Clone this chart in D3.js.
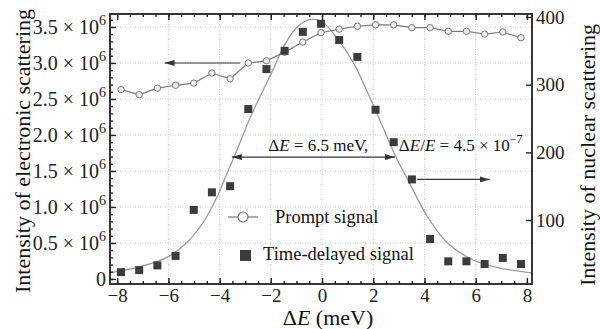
<!DOCTYPE html>
<html>
<head>
<meta charset="utf-8">
<script src="https://cdn.jsdelivr.net/npm/d3@7"></script>
<style>
  body { margin: 0; background: #fff; }
  svg { display: block; font-family: "Liberation Serif", serif; }
</style>
</head>
<body>
<svg id="chart" width="600" height="329"></svg>
<script>
// ---- data ----
// detuning of each measured point (meV)
const energy = [-7.85, -7.14, -6.43, -5.72, -5.01, -4.30, -3.59, -2.88, -2.17, -1.46, -0.75, -0.04,
                0.67, 1.38, 2.09, 2.80, 3.51, 4.22, 4.93, 5.64, 6.35, 7.06, 7.77];
// prompt signal, electronic scattering (x 10^6)
const prompt = [2.63, 2.56, 2.65, 2.69, 2.72, 2.86, 2.78, 3.00, 3.03, 3.15, 3.29, 3.42,
                3.47, 3.51, 3.53, 3.53, 3.49, 3.49, 3.44, 3.44, 3.40, 3.43, 3.35];
// time-delayed signal, nuclear scattering (counts)
const delayed = [23, 26, 33, 47, 115, 141, 150, 264, 323, 350, 378, 390,
                 366, 341, 263, 215, 160, 72, 39, 39, 35, 44, 35];
// fitted curve (nuclear axis)
const fitE      = [-8.3, -7.1, -6.0, -5.3, -4.65, -4.1, -3.7, -3.4, -2.8, -1.95, -1.5, -1.0, -0.5, 0.0,
                   0.6, 1.2, 2.0, 2.9, 3.4, 4.1, 4.9, 5.9, 6.95, 8.2];
const fitCounts = [22, 31, 46, 66, 96, 134, 170, 196, 252, 319, 356, 384, 396, 393,
                   368, 334, 270, 192, 156, 106, 66, 41, 29, 22];

const xTicks = [-8, -6, -4, -2, 0, 2, 4, 6, 8];
const leftTicks = [0, 0.5, 1.0, 1.5, 2.0, 2.5, 3.0, 3.5];
const leftLabels = ["0", "0.5", "1.0", "1.5", "2.0", "2.5", "3.0", "3.5"];
const rightTicks = [100, 200, 300, 400];

// ---- layout ----
const W = 600, H = 329;
const m = {top: 14, right: 68, bottom: 45, left: 110};
const iw = W - m.left - m.right, ih = H - m.top - m.bottom;
const serif = '"Liberation Serif", serif';

const svg = d3.select("#chart");
const g = svg.append("g").attr("transform", `translate(${m.left},${m.top})`);

const x = d3.scaleLinear().domain([-8.28, 8.2]).range([0, iw]);
const yL = d3.scaleLinear().domain([-0.07, 3.68]).range([ih, 0]);
const yR = d3.scaleLinear().domain([5.5, 404.4]).range([ih, 0]);

// grid
g.append("g").selectAll("line").data(xTicks.slice(1, -1)).join("line")
  .attr("x1", d => x(d)).attr("x2", d => x(d)).attr("y1", 0).attr("y2", ih)
  .attr("stroke", "#bdbdbd").attr("stroke-width", 0.8).attr("stroke-dasharray", "1,1.5");
g.append("g").selectAll("line").data(leftTicks.slice(1)).join("line")
  .attr("x1", 0).attr("x2", iw).attr("y1", d => yL(d)).attr("y2", d => yL(d))
  .attr("stroke", "#bdbdbd").attr("stroke-width", 0.8).attr("stroke-dasharray", "1,1.5");

const defs = svg.append("defs");
defs.append("clipPath").attr("id", "clip")
  .append("rect").attr("width", iw).attr("height", ih);

// arrow marker
defs.append("marker")
  .attr("id", "arrow").attr("viewBox", "0 0 10 6").attr("refX", 10).attr("refY", 3)
  .attr("markerWidth", 10).attr("markerHeight", 6).attr("markerUnits", "userSpaceOnUse")
  .attr("orient", "auto-start-reverse")
  .append("path").attr("d", "M0,0L10,3L0,6Z").attr("fill", "#333");

// fit curve
g.append("path")
  .datum(fitE.map((e, i) => [e, fitCounts[i]]))
  .attr("clip-path", "url(#clip)")
  .attr("fill", "none").attr("stroke", "#9a9a9a").attr("stroke-width", 1.3)
  .attr("d", d3.line().x(d => x(d[0])).y(d => yR(d[1])).curve(d3.curveCatmullRom));

// prompt line + circles
g.append("path")
  .datum(energy.map((e, i) => [e, prompt[i]]))
  .attr("fill", "none").attr("stroke", "#7a7a7a").attr("stroke-width", 1.2)
  .attr("d", d3.line().x(d => x(d[0])).y(d => yL(d[1])));
g.append("g").selectAll("circle").data(energy).join("circle")
  .attr("cx", d => x(d)).attr("cy", (d, i) => yL(prompt[i])).attr("r", 3.2)
  .attr("fill", "#eeeeee").attr("stroke", "#777").attr("stroke-width", 1);

// delayed squares
const sq = 8;
g.append("g").selectAll("rect").data(energy).join("rect")
  .attr("x", d => x(d) - sq / 2).attr("y", (d, i) => yR(delayed[i]) - sq / 2)
  .attr("width", sq).attr("height", sq).attr("fill", "#3c3c3c");

// arrows
function arrow(x1, y1, x2, y2, both) {
  const l = g.append("line").attr("x1", x1).attr("y1", y1).attr("x2", x2).attr("y2", y2)
    .attr("stroke", "#333").attr("stroke-width", 1.1).attr("marker-end", "url(#arrow)");
  if (both) l.attr("marker-start", "url(#arrow)");
}
arrow(x(-3.2), yL(3.0), x(-6.15), yL(3.0));
arrow(x(3.72), yR(160), x(6.55), yR(160));
arrow(x(-3.52), yR(193), x(2.85), yR(193), true);

// annotation texts
const ann = g.append("text").attr("x", x(-2.1)).attr("y", yR(193) - 6)
  .style("font-size", "17px").attr("fill", "#111");
ann.append("tspan").text("Δ");
ann.append("tspan").attr("font-style", "italic").text("E");
ann.append("tspan").text(" = 6.5 meV,");
const ann2 = g.append("text").attr("x", x(3.0)).attr("y", yR(193) - 6)
  .style("font-size", "17px").attr("fill", "#111");
ann2.append("tspan").text("Δ");
ann2.append("tspan").attr("font-style", "italic").text("E");
ann2.append("tspan").text("/");
ann2.append("tspan").attr("font-style", "italic").text("E");
ann2.append("tspan").text(" = 4.5 × 10");
ann2.append("tspan").attr("dy", -8).style("font-size", "12px").text("−7");

// legend
const lg = g.append("g").style("font-size", "18.5px").attr("fill", "#111");
lg.append("line").attr("x1", 118).attr("x2", 148).attr("y1", 203).attr("y2", 203)
  .attr("stroke", "#777").attr("stroke-width", 1.2);
lg.append("circle").attr("cx", 133).attr("cy", 203).attr("r", 5)
  .attr("fill", "#fff").attr("stroke", "#777").attr("stroke-width", 1.2);
lg.append("text").attr("x", 165).attr("y", 209).text("Prompt signal");
lg.append("rect").attr("x", 130).attr("y", 236).attr("width", 11).attr("height", 11).attr("fill", "#3c3c3c");
lg.append("text").attr("x", 153).attr("y", 246).text("Time-delayed signal");

// axes
const xMinor = d3.range(-8, 8.01, 0.5);
const lMinor = d3.range(0, 3.65, 0.1);

function styleAxis(sel, size) {
  sel.attr("font-family", null).attr("font-size", null);
  sel.select(".domain").remove();
  sel.selectAll("line").attr("stroke", "#222").attr("stroke-width", 1.4);
  sel.selectAll("text").style("font-family", serif).style("font-size", (size || 19) + "px")
    .attr("fill", "#222");
}

g.append("g").attr("transform", `translate(0,${ih})`)
  .call(d3.axisBottom(x).tickValues(xMinor).tickSize(-3).tickFormat(""))
  .call(styleAxis);
g.append("g").attr("transform", `translate(0,${ih})`)
  .call(d3.axisBottom(x).tickValues(xTicks).tickSize(-6).tickPadding(5))
  .call(styleAxis, 19);

g.append("g")
  .call(d3.axisTop(x).tickValues(xMinor).tickSize(-3).tickFormat(""))
  .call(styleAxis);
g.append("g")
  .call(d3.axisTop(x).tickValues(xTicks).tickSize(-6).tickFormat(""))
  .call(styleAxis);

g.append("g")
  .call(d3.axisLeft(yL).tickValues(lMinor).tickSize(-3).tickFormat(""))
  .call(styleAxis);
const la = g.append("g")
  .call(d3.axisLeft(yL).tickValues(leftTicks).tickSize(-6).tickPadding(4).tickFormat(""))
  .call(styleAxis, 20);
la.selectAll(".tick text").each(function(d, i) {
  const t = d3.select(this).attr("dy", "0.32em");
  t.append("tspan").text(leftLabels[i]);
  if (d !== 0) {
    t.append("tspan").text(" × 10");
    t.append("tspan").attr("dy", -9).style("font-size", "14px").text("6");
  }
});

g.append("g").attr("transform", `translate(${iw},0)`)
  .call(d3.axisRight(yR).tickValues(rightTicks).tickSize(-6).tickPadding(4))
  .call(styleAxis, 19);

// frame
g.append("rect").attr("width", iw).attr("height", ih)
  .attr("fill", "none").attr("stroke", "#222").attr("stroke-width", 1.8);

// titles
svg.append("text").attr("transform", `translate(30,${m.top + ih / 2 + 2}) rotate(-90)`)
  .attr("text-anchor", "middle").style("font-size", "22px").attr("fill", "#111")
  .text("Intensity of electronic scattering");
svg.append("text").attr("transform", `translate(595,${m.top + ih / 2 + 6}) rotate(-90)`)
  .attr("text-anchor", "middle").style("font-size", "22px").attr("fill", "#111")
  .text("Intensity of nuclear scattering");
const xt = svg.append("text").attr("x", m.left + iw / 2 + 7).attr("y", 325)
  .attr("text-anchor", "middle").style("font-size", "22px").attr("fill", "#111");
xt.append("tspan").text("Δ");
xt.append("tspan").attr("font-style", "italic").text("E");
xt.append("tspan").text(" (meV)");
</script>
</body>
</html>
